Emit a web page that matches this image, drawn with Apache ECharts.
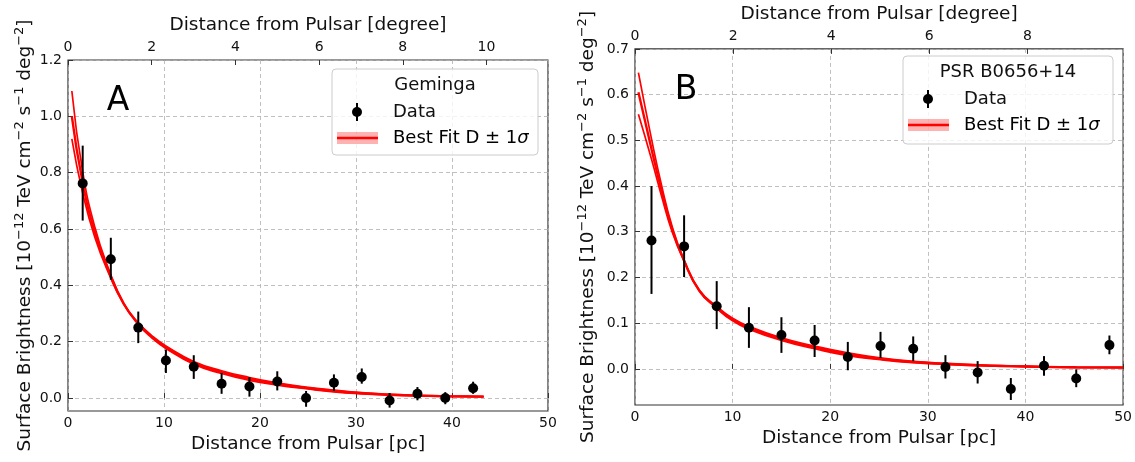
<!DOCTYPE html>
<html><head><meta charset="utf-8">
<script src="https://cdn.jsdelivr.net/npm/echarts@6.0.0/dist/echarts.min.js"></script>
<style>html,body{margin:0;padding:0;background:#fff}#c{width:1135px;height:462px}</style>
</head><body><div id="c"></div>
<script>
// ---- Panel A: Geminga ----
const gemX  = [1.53, 4.46, 7.32, 10.2, 13.1, 16.0, 18.9, 21.8, 24.8, 27.7, 30.6, 33.5, 36.4, 39.3, 42.2];
const gemY  = [0.762, 0.493, 0.250, 0.133, 0.111, 0.051, 0.041, 0.059, 0.000, 0.054, 0.075, -0.009, 0.015, 0.000, 0.035];
const gemLo = [0.630, 0.420, 0.195, 0.089, 0.068, 0.015, 0.005, 0.027, -0.031, 0.025, 0.051, -0.034, -0.008, -0.022, 0.015];
const gemHi = [0.896, 0.569, 0.307, 0.172, 0.152, 0.089, 0.074, 0.095, 0.025, 0.084, 0.105, 0.018, 0.039, 0.021, 0.058];
const gemFitX    = [0.4, 1.5, 2.8, 4.3, 5.8, 7.3, 8.75, 10.2, 13.1, 16, 18.9, 21.8, 24.8, 27.7, 30.6, 33.5, 36.4, 39.3, 43.3];
const gemFitBest = [1.0, 0.77, 0.588, 0.445, 0.335, 0.265, 0.217, 0.180, 0.125, 0.092, 0.068, 0.050, 0.036, 0.025, 0.017, 0.012, 0.0085, 0.0065, 0.005];
const gemFitUp   = [1.09, 0.809, 0.606, 0.452, 0.336, 0.262, 0.213, 0.176, 0.120, 0.087, 0.063, 0.046, 0.033, 0.022, 0.015, 0.0104, 0.0073, 0.0055, 0.0042];
const gemFitLow  = [0.92, 0.732, 0.570, 0.438, 0.334, 0.268, 0.221, 0.185, 0.130, 0.097, 0.073, 0.054, 0.039, 0.028, 0.019, 0.0136, 0.0097, 0.0075, 0.0058];
const gemYTicks   = [0, 0.2, 0.4, 0.6, 0.8, 1.0, 1.2];
const gemDegTicks = [0, 2, 4, 6, 8, 10];

// ---- Panel B: PSR B0656+14 ----
const psrX  = [1.69, 5.03, 8.37, 11.67, 15.0, 18.4, 21.8, 25.15, 28.5, 31.8, 35.1, 38.5, 41.9, 45.2, 48.6];
const psrY  = [0.281, 0.268, 0.137, 0.090, 0.074, 0.062, 0.026, 0.050, 0.044, 0.004, -0.008, -0.044, 0.007, -0.021, 0.052];
const psrLo = [0.164, 0.201, 0.087, 0.046, 0.035, 0.026, -0.003, 0.024, 0.017, -0.021, -0.032, -0.068, -0.015, -0.040, 0.032];
const psrHi = [0.400, 0.336, 0.192, 0.135, 0.113, 0.096, 0.059, 0.081, 0.071, 0.030, 0.017, -0.020, 0.028, -0.001, 0.073];
const psrFitX    = [0.35, 1.7, 2.73, 3.8, 5.0, 6.6, 8.35, 10.0, 11.67, 15.0, 18.4, 21.8, 25.15, 28.5, 31.8, 35.1, 38.5, 41.9, 45.2, 50];
const psrFitBest = [0.605, 0.48, 0.389, 0.306, 0.238, 0.171, 0.135, 0.108, 0.090, 0.065, 0.047, 0.032, 0.022, 0.015, 0.011, 0.008, 0.006, 0.0045, 0.0035, 0.003];
const psrFitUp   = [0.648, 0.502, 0.401, 0.312, 0.239, 0.170, 0.133, 0.105, 0.087, 0.062, 0.044, 0.029, 0.020, 0.0134, 0.0097, 0.007, 0.0052, 0.0038, 0.0029, 0.0025];
const psrFitLow  = [0.557, 0.458, 0.377, 0.300, 0.237, 0.172, 0.137, 0.111, 0.093, 0.068, 0.050, 0.035, 0.024, 0.0167, 0.0123, 0.009, 0.0068, 0.0052, 0.0041, 0.0035];
const psrYTicks   = [0, 0.1, 0.2, 0.3, 0.4, 0.5, 0.6, 0.7];
const psrDegTicks = [0, 2, 4, 6, 8];

const pcTicks = [0, 10, 20, 30, 40, 50];

const FONT = 'DejaVu Sans';
const TXT = '#111';
const FRAME = '#333';

const chart = echarts.init(document.getElementById('c'), null, {renderer: 'canvas'});

const yName = '{b|Surface Brightness [10}{s|\u221212}{b| TeV cm}{s|\u22122}{b| s}{s|\u22121}{b| deg}{s|\u22122}{b|]}';
const yRich = {
  b: {fontSize: 18.5, fontFamily: FONT, color: TXT, lineHeight: 22, verticalAlign: 'bottom'},
  s: {fontSize: 13, fontFamily: FONT, color: TXT, lineHeight: 13, verticalAlign: 'top'}
};

function pcAxis(grid) {
  return {
    type: 'value', gridIndex: grid, position: 'bottom', min: pcTicks[0], max: pcTicks[pcTicks.length - 1], interval: 10,
    name: 'Distance from Pulsar [pc]', nameLocation: 'middle', nameGap: 24,
    nameTextStyle: {fontSize: 18.5, fontFamily: FONT, color: TXT},
    axisLine: {show: false},
    axisTick: {show: true, inside: true, length: 5, lineStyle: {color: FRAME, width: 1}},
    axisLabel: {fontSize: 14, fontFamily: FONT, color: TXT, margin: 5},
    splitLine: {show: true, lineStyle: {color: '#b0b0b0', type: [4, 3], width: 0.8}}
  };
}
function degAxis(grid, maxDeg, ticks) {
  return {
    type: 'value', gridIndex: grid, position: 'top', min: 0, max: maxDeg,
    name: 'Distance from Pulsar [degree]', nameLocation: 'middle', nameGap: 24,
    nameTextStyle: {fontSize: 18.5, fontFamily: FONT, color: TXT},
    axisLine: {show: false},
    axisTick: {show: true, inside: true, length: 5, customValues: ticks, lineStyle: {color: FRAME, width: 1}},
    axisLabel: {fontSize: 14, fontFamily: FONT, color: TXT, margin: 6, customValues: ticks,
      formatter: v => String(Math.round(v))},
    splitLine: {show: false}
  };
}
function yAxis(grid, mn, mx, ticks, gap) {
  return {
    type: 'value', gridIndex: grid, min: mn, max: mx,
    name: yName, nameLocation: 'middle', nameGap: gap, nameRotate: 90,
    nameTextStyle: {rich: yRich},
    axisLine: {show: false},
    axisTick: {show: true, inside: true, length: 5, customValues: ticks, lineStyle: {color: FRAME, width: 1}},
    axisLabel: {fontSize: 14, fontFamily: FONT, color: TXT, margin: 6, customValues: ticks,
      formatter: v => v.toFixed(1)},
    splitLine: {show: true, lineStyle: {color: '#b0b0b0', type: [4, 3], width: 0.8}}
  };
}

function errSeries(xa, lo, hi, xi, yi) {
  return {
    type: 'custom', xAxisIndex: xi, yAxisIndex: yi, z: 5,
    data: xa.map((x, i) => [x, lo[i], hi[i]]),
    renderItem: (params, api) => {
      const p1 = api.coord([api.value(0), api.value(1)]);
      const p2 = api.coord([api.value(0), api.value(2)]);
      return {type: 'line', shape: {x1: p1[0], y1: p1[1], x2: p2[0], y2: p2[1]},
        style: {stroke: '#000', lineWidth: 2}};
    }
  };
}
function ptSeries(xa, ya, xi, yi) {
  return {type: 'scatter', xAxisIndex: xi, yAxisIndex: yi, z: 6, symbol: 'circle', symbolSize: 10,
    itemStyle: {color: '#000', opacity: 1}, data: xa.map((x, i) => [x, ya[i]])};
}
function fitSeries(xa, ya, xi, yi, w) {
  return {type: 'line', xAxisIndex: xi, yAxisIndex: yi, z: 3, smooth: 0.5,
    showSymbol: false, symbol: 'none', lineStyle: {color: '#ff0000', width: w},
    data: xa.map((x, i) => [x, ya[i]])};
}

function legend(x, y, w, h, title) {
  const els = [];
  els.push({type: 'rect', z: 100, shape: {x: x, y: y, width: w, height: h, r: 4},
    style: {fill: 'rgba(255,255,255,0.8)', stroke: '#cccccc', lineWidth: 1}});
  els.push({type: 'text', z: 101, style: {text: title, x: x + w / 2, y: y + 16, fill: TXT,
    font: '18px "DejaVu Sans"', textAlign: 'center', textVerticalAlign: 'middle'}});
  els.push({type: 'line', z: 101, shape: {x1: x + 25, y1: y + 34, x2: x + 25, y2: y + 52},
    style: {stroke: '#000', lineWidth: 2}});
  els.push({type: 'circle', z: 102, shape: {cx: x + 25, cy: y + 43, r: 5}, style: {fill: '#000'}});
  els.push({type: 'text', z: 101, style: {text: 'Data', x: x + 61, y: y + 43, fill: TXT,
    font: '18px "DejaVu Sans"', textAlign: 'left', textVerticalAlign: 'middle'}});
  els.push({type: 'rect', z: 101, shape: {x: x + 5, y: y + 63, width: 41, height: 12},
    style: {fill: 'rgba(255,0,0,0.3)'}});
  els.push({type: 'line', z: 102, shape: {x1: x + 5, y1: y + 69, x2: x + 46, y2: y + 69},
    style: {stroke: '#ff0000', lineWidth: 2.5}});
  els.push({type: 'text', z: 101, style: {text: '{n|Best Fit D \u00b1 1}{i|\u03c3}', x: x + 61, y: y + 69,
    textAlign: 'left', textVerticalAlign: 'middle',
    rich: {n: {fontSize: 18, fontFamily: FONT, color: TXT},
           i: {fontSize: 18, fontFamily: FONT, fontStyle: 'italic', color: TXT}}}});
  return els;
}

const option = {
  animation: false,
  backgroundColor: '#fff',
  grid: [
    {left: 68, top: 60, width: 480, height: 351, show: true, borderColor: FRAME, borderWidth: 1.2, backgroundColor: 'transparent'},
    {left: 635, top: 47, width: 489, height: 358, show: true, borderColor: FRAME, borderWidth: 1.2, backgroundColor: 'transparent'}
  ],
  xAxis: [pcAxis(0), degAxis(0, 11.47, gemDegTicks), pcAxis(1), degAxis(1, 9.95, psrDegTicks)],
  yAxis: [yAxis(0, -0.046, 1.2, gemYTicks, 33), yAxis(1, -0.079, 0.7, psrYTicks, 37)],
  series: [
    fitSeries(gemFitX, gemFitUp, 0, 0, 1.7),
    fitSeries(gemFitX, gemFitLow, 0, 0, 1.7),
    fitSeries(gemFitX, gemFitBest, 0, 0, 2.4),
    errSeries(gemX, gemLo, gemHi, 0, 0),
    ptSeries(gemX, gemY, 0, 0),
    fitSeries(psrFitX, psrFitUp, 2, 1, 1.7),
    fitSeries(psrFitX, psrFitLow, 2, 1, 1.7),
    fitSeries(psrFitX, psrFitBest, 2, 1, 2.4),
    errSeries(psrX, psrLo, psrHi, 2, 1),
    ptSeries(psrX, psrY, 2, 1)
  ],
  graphic: [
    {type: 'text', z: 100, style: {text: 'A', x: 118, y: 101, fill: '#000', font: '33px "DejaVu Sans"', textAlign: 'center', textVerticalAlign: 'middle'}},
    {type: 'text', z: 100, style: {text: 'B', x: 686, y: 90.5, fill: '#000', font: '33px "DejaVu Sans"', textAlign: 'center', textVerticalAlign: 'middle'}},
    ...legend(332, 69, 206, 86, 'Geminga'),
    ...legend(903, 56, 210, 88, 'PSR B0656+14')
  ]
};
chart.setOption(option);
</script>
</body></html>
